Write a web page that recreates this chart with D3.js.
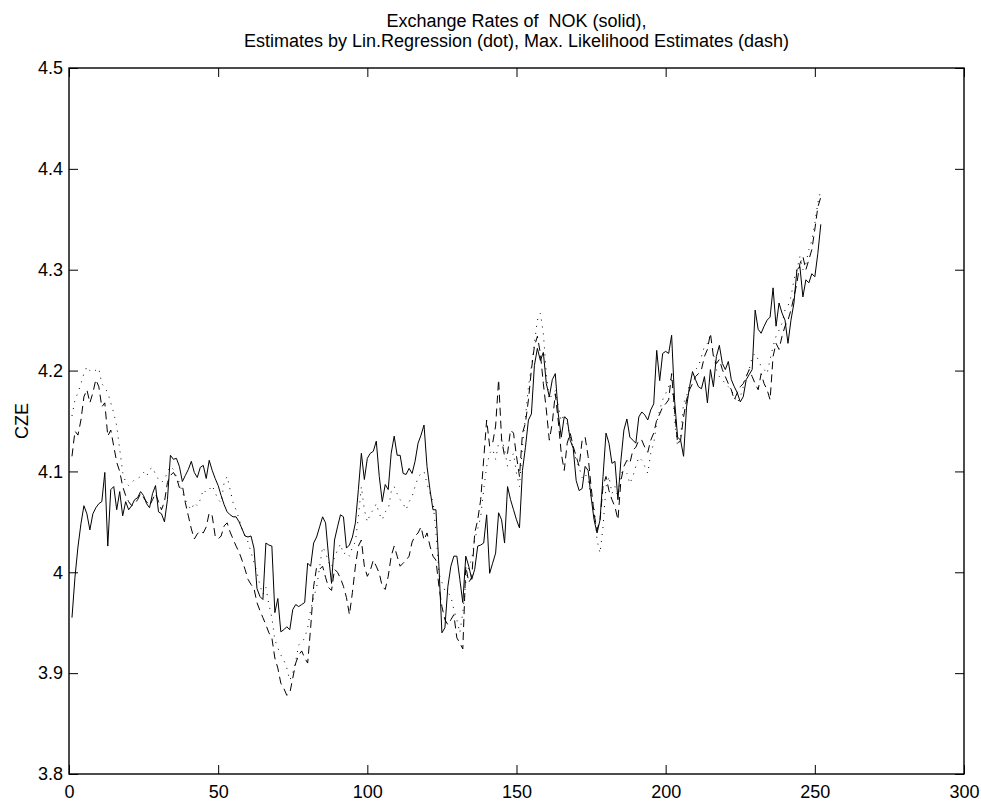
<!DOCTYPE html>
<html>
<head>
<meta charset="utf-8">
<script src="https://cdn.jsdelivr.net/npm/d3@7"></script>
<style>
  html, body { margin: 0; padding: 0; background: #fff; }
  svg { display: block; font-family: "Liberation Sans", Arial, Helvetica, sans-serif; }
</style>
</head>
<body>
<div id="chart"></div>
<script>
// exchange rate series, trading days 1..252
const nokRate = [
  3.955, 3.995, 4.025, 4.048, 4.066, 4.058, 4.042, 4.058, 4.064, 4.068,
  4.070, 4.099, 4.026, 4.082, 4.085, 4.062, 4.080, 4.056, 4.070, 4.062,
  4.066, 4.072, 4.074, 4.080, 4.076, 4.068, 4.064, 4.078, 4.086, 4.060,
  4.058, 4.050, 4.072, 4.116, 4.112, 4.113, 4.105, 4.090, 4.096, 4.102,
  4.110, 4.099, 4.094, 4.104, 4.106, 4.093, 4.111, 4.101, 4.093, 4.086,
  4.076, 4.067, 4.060, 4.057, 4.055, 4.055, 4.050, 4.043, 4.036, 4.035,
  4.036, 4.024, 3.984, 3.976, 3.973, 4.029, 4.027, 4.026, 3.960, 3.974,
  3.941, 3.943, 3.946, 3.943, 3.963, 3.968, 3.966, 3.968, 3.970, 4.009,
  4.006, 4.029, 4.035, 4.045, 4.055, 4.049, 4.016, 3.989, 4.032, 4.045,
  4.057, 4.055, 4.024, 4.027, 4.035, 4.049, 4.082, 4.118, 4.092, 4.113,
  4.118, 4.120, 4.130, 4.095, 4.070, 4.087, 4.082, 4.118, 4.135, 4.116,
  4.116, 4.098, 4.097, 4.103, 4.098, 4.110, 4.128, 4.136, 4.146, 4.105,
  4.082, 4.062, 4.062, 4.006, 3.940, 3.945, 3.986, 4.006, 4.016, 4.016,
  3.993, 3.970, 4.016, 4.006, 3.993, 4.003, 4.026, 4.027, 4.029, 4.057,
  3.999, 4.009, 4.019, 4.059, 4.052, 4.029, 4.085, 4.072, 4.062, 4.052,
  4.044, 4.101, 4.124, 4.151, 4.157, 4.205, 4.222, 4.210, 4.218, 4.187,
  4.174, 4.191, 4.197, 4.157, 4.134, 4.154, 4.152, 4.131, 4.123, 4.091,
  4.081, 4.083, 4.105, 4.101, 4.075, 4.052, 4.039, 4.052, 4.095, 4.138,
  4.128, 4.108, 4.110, 4.072, 4.111, 4.141, 4.152, 4.134, 4.131, 4.128,
  4.154, 4.159, 4.156, 4.151, 4.161, 4.167, 4.220, 4.190, 4.217, 4.219,
  4.217, 4.235, 4.170, 4.134, 4.131, 4.115, 4.164, 4.184, 4.199, 4.191,
  4.184, 4.182, 4.194, 4.168, 4.201, 4.184, 4.214, 4.225, 4.207, 4.201,
  4.209, 4.191, 4.184, 4.178, 4.169, 4.174, 4.191, 4.196, 4.201, 4.260,
  4.241, 4.237, 4.244, 4.250, 4.253, 4.282, 4.244, 4.267, 4.257, 4.250,
  4.227, 4.250, 4.267, 4.300, 4.303, 4.273, 4.290, 4.287, 4.296, 4.293,
  4.316, 4.345
];

// linear regression estimates (dotted)
const linRegEst = [
  4.155, 4.171, 4.178, 4.187, 4.197, 4.204, 4.200, 4.202, 4.200, 4.202,
  4.187, 4.183, 4.178, 4.168, 4.158, 4.145, 4.122, 4.099, 4.089, 4.086,
  4.089, 4.092, 4.093, 4.095, 4.099, 4.095, 4.102, 4.104, 4.097, 4.092,
  4.089, 4.092, 4.099, 4.105, 4.102, 4.095, 4.089, 4.079, 4.072, 4.066,
  4.062, 4.069, 4.066, 4.072, 4.082, 4.079, 4.082, 4.086, 4.079, 4.072,
  4.069, 4.089, 4.095, 4.082, 4.069, 4.062, 4.053, 4.043, 4.036, 4.030,
  4.020, 4.010, 4.000, 3.987, 3.978, 3.985, 3.968, 3.955, 3.933, 3.925,
  3.918, 3.913, 3.905, 3.893, 3.900, 3.912, 3.928, 3.930, 3.935, 3.945,
  3.963, 3.975, 3.985, 4.005, 4.025, 4.020, 4.010, 4.005, 4.015, 4.022,
  4.028, 4.018, 4.020, 4.016, 4.025, 4.030, 4.055, 4.085, 4.062, 4.050,
  4.058, 4.062, 4.068, 4.058, 4.052, 4.060, 4.062, 4.080, 4.085, 4.078,
  4.072, 4.068, 4.062, 4.070, 4.075, 4.085, 4.094, 4.098, 4.100, 4.088,
  4.078, 4.070, 4.040, 3.999, 3.990, 3.982, 3.980, 3.976, 3.963, 3.953,
  3.940, 3.960, 3.990, 4.006, 4.013, 4.033, 4.043, 4.055, 4.082, 4.105,
  4.118, 4.122, 4.112, 4.128, 4.132, 4.122, 4.105, 4.112, 4.118, 4.098,
  4.085, 4.125, 4.154, 4.184, 4.204, 4.227, 4.250, 4.257, 4.237, 4.197,
  4.171, 4.177, 4.180, 4.165, 4.150, 4.157, 4.147, 4.134, 4.124, 4.111,
  4.104, 4.094, 4.098, 4.091, 4.075, 4.065, 4.032, 4.019, 4.045, 4.085,
  4.095, 4.078, 4.085, 4.075, 4.098, 4.101, 4.098, 4.088, 4.095, 4.105,
  4.114, 4.111, 4.105, 4.098, 4.118, 4.128, 4.148, 4.161, 4.171, 4.177,
  4.184, 4.194, 4.151, 4.125, 4.134, 4.168, 4.174, 4.187, 4.194, 4.201,
  4.204, 4.214, 4.224, 4.227, 4.234, 4.217, 4.201, 4.194, 4.191, 4.187,
  4.184, 4.181, 4.174, 4.168, 4.174, 4.184, 4.194, 4.201, 4.214, 4.217,
  4.211, 4.204, 4.201, 4.197, 4.211, 4.224, 4.234, 4.240, 4.247, 4.260,
  4.264, 4.273, 4.290, 4.300, 4.313, 4.300, 4.306, 4.320, 4.329, 4.346,
  4.366, 4.379
];

// maximum likelihood estimates (dashed)
const maxLikEst = [
  4.115, 4.140, 4.136, 4.151, 4.174, 4.181, 4.168, 4.178, 4.191, 4.184,
  4.164, 4.168, 4.135, 4.141, 4.125, 4.109, 4.100, 4.085, 4.076, 4.070,
  4.066, 4.068, 4.072, 4.078, 4.074, 4.070, 4.066, 4.072, 4.078, 4.070,
  4.062, 4.070, 4.089, 4.096, 4.099, 4.094, 4.084, 4.086, 4.069, 4.056,
  4.043, 4.033, 4.038, 4.041, 4.039, 4.045, 4.059, 4.056, 4.036, 4.033,
  4.036, 4.046, 4.049, 4.040, 4.033, 4.026, 4.020, 4.012, 4.003, 3.993,
  3.988, 3.984, 3.970, 3.962, 3.955, 3.948, 3.940, 3.935, 3.915, 3.905,
  3.890, 3.885, 3.878, 3.880, 3.895, 3.910, 3.918, 3.922, 3.915, 3.910,
  3.945, 3.986, 4.005, 4.003, 4.006, 3.995, 3.985, 3.982, 4.003, 4.000,
  3.994, 3.986, 3.975, 3.958, 3.980, 4.006, 4.026, 4.032, 4.006, 3.996,
  4.002, 4.012, 4.006, 3.999, 3.986, 3.983, 3.996, 4.016, 4.026, 4.016,
  4.006, 4.009, 4.012, 4.016, 4.030, 4.036, 4.039, 4.045, 4.032, 4.039,
  4.026, 4.016, 4.012, 3.986, 3.966, 3.953, 3.948, 3.953, 3.958, 3.935,
  3.930, 3.924, 4.006, 3.990, 3.995, 4.039, 4.052, 4.072, 4.112, 4.151,
  4.125, 4.128, 4.145, 4.191, 4.132, 4.115, 4.118, 4.141, 4.138, 4.115,
  4.095, 4.138, 4.148, 4.171, 4.201, 4.224, 4.234, 4.217, 4.187, 4.161,
  4.131, 4.148, 4.177, 4.150, 4.118, 4.101, 4.128, 4.138, 4.125, 4.115,
  4.105, 4.131, 4.134, 4.115, 4.085, 4.058, 4.042, 4.052, 4.085, 4.095,
  4.081, 4.072, 4.065, 4.052, 4.091, 4.105, 4.111, 4.108, 4.121, 4.124,
  4.131, 4.131, 4.124, 4.119, 4.131, 4.138, 4.151, 4.157, 4.164, 4.167,
  4.171, 4.197, 4.160, 4.128, 4.131, 4.154, 4.171, 4.181, 4.187, 4.194,
  4.197, 4.201, 4.214, 4.221, 4.237, 4.214, 4.207, 4.211, 4.201, 4.194,
  4.187, 4.181, 4.171, 4.178, 4.184, 4.187, 4.194, 4.201, 4.194, 4.187,
  4.181, 4.197, 4.187, 4.181, 4.171, 4.214, 4.227, 4.221, 4.234, 4.244,
  4.250, 4.260, 4.273, 4.287, 4.306, 4.313, 4.300, 4.310, 4.320, 4.340,
  4.362, 4.372
];

const xTicks = [0, 50, 100, 150, 200, 250, 300];
const yTicks = [3.8, 3.9, 4.0, 4.1, 4.2, 4.3, 4.4, 4.5];
const yTickLabels = ['3.8', '3.9', '4', '4.1', '4.2', '4.3', '4.4', '4.5'];

const titleLines = [
  'Exchange Rates of  NOK (solid),',
  'Estimates by Lin.Regression (dot), Max. Likelihood Estimates (dash)'
];
const yLabel = 'CZE';

const width = 981;
const height = 801;
const margin = {top: 68, right: 17, bottom: 27, left: 69};
const tickLen = 9;
const fontSize = 18;

const svg = d3.select('#chart').append('svg')
  .attr('width', width)
  .attr('height', height)
  .attr('viewBox', '0 0 ' + width + ' ' + height);

const x = d3.scaleLinear()
  .domain([0, 300])
  .range([margin.left, width - margin.right]);

const y = d3.scaleLinear()
  .domain([3.8, 4.5])
  .range([height - margin.bottom, margin.top]);

// axes: ticks point inward on all four sides
function drawAxes() {
  const bottom = svg.append('g')
    .attr('transform', `translate(0,${y.range()[0]})`)
    .call(d3.axisBottom(x).tickValues(xTicks).tickSizeInner(-tickLen).tickSizeOuter(0).tickPadding(11));

  const top = svg.append('g')
    .attr('transform', `translate(0,${y.range()[1]})`)
    .call(d3.axisTop(x).tickValues(xTicks).tickSizeInner(-tickLen).tickSizeOuter(0).tickFormat(''));

  const left = svg.append('g')
    .attr('transform', `translate(${x.range()[0]},0)`)
    .call(d3.axisLeft(y).tickValues(yTicks).tickSizeInner(-tickLen).tickSizeOuter(0).tickPadding(6)
      .tickFormat((d, i) => yTickLabels[i]));

  const right = svg.append('g')
    .attr('transform', `translate(${x.range()[1]},0)`)
    .call(d3.axisRight(y).tickValues(yTicks).tickSizeInner(-tickLen).tickSizeOuter(0).tickFormat(''));

  [bottom, top, left, right].forEach(g => {
    g.select('.domain').remove();
    g.selectAll('line').attr('stroke', '#000').attr('stroke-width', 1);
    g.selectAll('text')
      .attr('fill', '#000')
      .style('font-size', fontSize + 'px')
      .style('font-family', '"Liberation Sans", Arial, Helvetica, sans-serif');
  });

  svg.append('rect')
    .attr('x', x.range()[0])
    .attr('y', y.range()[1])
    .attr('width', x.range()[1] - x.range()[0])
    .attr('height', y.range()[0] - y.range()[1])
    .attr('fill', 'none')
    .attr('stroke', '#000')
    .attr('stroke-width', 1.4);
}

function drawSeries(values, dash, strokeWidth) {
  const line = d3.line()
    .x((d, i) => x(i + 1))
    .y(d => y(d));

  svg.append('path')
    .datum(values)
    .attr('d', line)
    .attr('fill', 'none')
    .attr('stroke', '#000')
    .attr('stroke-width', strokeWidth)
    .attr('stroke-dasharray', dash);
}

function drawLabels() {
  const cx = (x.range()[0] + x.range()[1]) / 2;
  svg.append('g').selectAll('text')
    .data(titleLines)
    .enter()
    .append('text')
    .attr('x', cx)
    .attr('y', (d, i) => 27 + i * 20)
    .attr('text-anchor', 'middle')
    .style('white-space', 'pre')
    .style('font-size', fontSize + 'px')
    .text(d => d);

  const cy = (y.range()[0] + y.range()[1]) / 2;
  svg.append('text')
    .attr('transform', `translate(28,${cy}) rotate(-90)`)
    .attr('text-anchor', 'middle')
    .style('font-size', fontSize + 'px')
    .text(yLabel);
}

drawAxes();
drawSeries(linRegEst, '1,6', 1);
drawSeries(maxLikEst, '8,5', 1);
drawSeries(nokRate, null, 1);
drawLabels();
</script>
</body>
</html>
